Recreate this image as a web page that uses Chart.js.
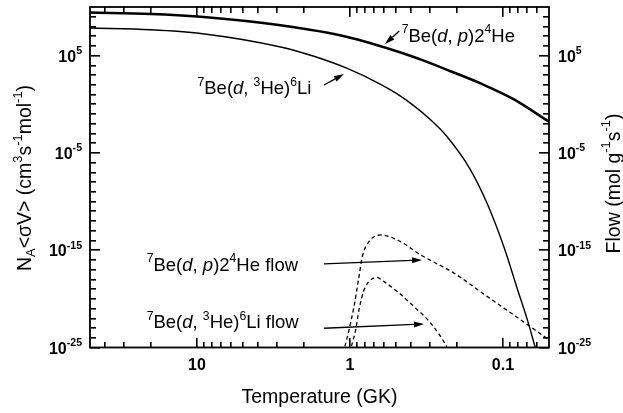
<!DOCTYPE html>
<html><head><meta charset="utf-8">
<script src="https://cdn.jsdelivr.net/npm/chart.js@4.4.1/dist/chart.umd.min.js"></script>
<style>html,body{margin:0;padding:0;background:#fff;}#wrap{width:623px;height:413px;}</style>
</head><body><div id="wrap"><canvas id="c" width="623" height="413"></canvas></div>
<script>
// ---- data (temperature in GK) ----
const dpTemps = [50, 20, 9.45, 2.84, 1.04, 0.466, 0.336, 0.22, 0.14, 0.0847, 0.05];
const dpRate = [2.7e9, 1.95e9, 9.8e8, 1.3e8, 8.3e6, 2.1e5, 3.4e4, 2.5e3, 1.4e2, 3.2, 1.6e-2];

const he3Temps = [50, 20, 9.45, 2.84, 1.7, 1.04, 0.63, 0.5, 0.385, 0.3, 0.233, 0.163, 0.126, 0.098, 0.0805, 0.0686, 0.0615, 0.058];
const he3Rate = [6.9e7, 4.6e7, 1.9e7, 7.8e5, 8.1e4, 4.8e3, 1.14e2, 13.8, 0.77, 2.87e-2, 5.1e-4, 1.85e-7, 5.0e-11, 1.7e-15, 1.05e-19, 4.3e-23, 1e-25, 5e-27];

const dpFlowTemps = [1.148, 1.084, 1.014, 0.941, 0.873, 0.830, 0.751, 0.630, 0.490, 0.345, 0.209, 0.1264, 0.0766, 0.05];
const dpFlow = [5.5e-27, 1e-25, 6.6e-24, 1.6e-21, 1.9e-18, 2.2e-16, 7.6e-15, 3.7e-14, 1.15e-14, 3.3e-16, 4.4e-18, 1.7e-20, 6.9e-23, 6.2e-25];

const he3FlowTemps = [1.01, 0.98, 0.917, 0.873, 0.809, 0.751, 0.668, 0.599, 0.490, 0.3815, 0.2966, 0.2307, 0.2196];
const he3Flow = [5e-27, 1e-25, 6.6e-24, 7.4e-22, 8.3e-20, 5.9e-19, 1.6e-18, 5.9e-19, 5.6e-20, 1.6e-21, 3.2e-23, 8.7e-26, 1.4e-26];

// ---- tick values and labels ----
const xMajorTicks = [10, 1, 0.1];
const xMajorLabels = ['10', '1', '0.1'];
const xMinorTicks = [40, 30, 20, 9, 8, 7, 6, 5, 4, 3, 2, 0.9, 0.8, 0.7, 0.6, 0.5, 0.4, 0.3, 0.2, 0.09, 0.08, 0.07, 0.06];
const yMajorExponents = [-25, -15, -5, 5];
const yMinorExponents = [-24,-23,-22,-21,-20,-19,-18,-17,-16,-14,-13,-12,-11,-10,-9,-8,-7,-6,-4,-3,-2,-1,0,1,2,3,4,6,7,8,9];

// ---- texts ----
const xTitle = [{t:'Temperature (GK)'}];
const yTitle = [{t:'N'},{t:'A',sub:1},{t:'<σV> (cm'},{t:'3',sup:1},{t:'s'},{t:'-1',sup:1},{t:'mol'},{t:'-1',sup:1},{t:')'}];
const y2Title = [{t:'Flow (mol g'},{t:'-1',sup:1},{t:'s'},{t:'-1',sup:1},{t:')'}];
const dpName = [{t:'7',sup:1},{t:'Be('},{t:'d',it:1},{t:', '},{t:'p',it:1},{t:')2'},{t:'4',sup:1},{t:'He'}];
const he3Name = [{t:'7',sup:1},{t:'Be('},{t:'d',it:1},{t:', '},{t:'3',sup:1},{t:'He)'},{t:'6',sup:1},{t:'Li'}];

const notes = [
  {segs: dpName, scale:'y', at:[0.459, 2.72e6], from:[0.476, 3.4e7], to:[0.590, 1.57e6]},
  {segs: he3Name, scale:'y', at:[9.92, 10.2], from:[1.477, 96], to:[1.094, 1300]},
  {segs: dpName.concat([{t:' flow'}]), scale:'y2', at:[21.3, 7.9e-18], from:[1.477, 3.9e-17], to:[0.338, 1e-16]},
  {segs: he3Name.concat([{t:' flow'}]), scale:'y2', at:[21.3, 9.5e-24], from:[1.477, 9.5e-24], to:[0.328, 2.6e-23]}
];

const FF = '"Liberation Sans", Arial, Helvetica, sans-serif';

function segFont(s, size, weight) {
  const sz = (s.sup || s.sub) ? size * 0.66 : size;
  return (s.it ? 'italic ' : '') + weight + ' ' + sz + 'px ' + FF;
}
function richWidth(ctx, segs, size, weight) {
  let w = 0;
  for (const s of segs) { ctx.font = segFont(s, size, weight); w += ctx.measureText(s.t).width; }
  return w;
}
function drawRich(ctx, segs, x, y, size, weight, align) {
  const w = richWidth(ctx, segs, size, weight);
  let cx = align === 'center' ? x - w / 2 : (align === 'right' ? x - w : x);
  ctx.textAlign = 'left'; ctx.textBaseline = 'alphabetic'; ctx.fillStyle = '#000';
  for (const s of segs) {
    ctx.font = segFont(s, size, weight);
    const dy = s.sup ? -size * 0.47 : (s.sub ? size * 0.22 : 0);
    ctx.fillText(s.t, cx, y + dy);
    cx += ctx.measureText(s.t).width;
  }
}
function arrow(ctx, x1, y1, x2, y2, len, half) {
  const a = Math.atan2(y2 - y1, x2 - x1);
  const bx = x2 - len * Math.cos(a), by = y2 - len * Math.sin(a);
  ctx.beginPath(); ctx.moveTo(x1, y1); ctx.lineTo(bx, by); ctx.stroke();
  ctx.beginPath();
  ctx.moveTo(x2, y2);
  ctx.lineTo(bx + half * Math.sin(a), by - half * Math.cos(a));
  ctx.lineTo(bx - half * Math.sin(a), by + half * Math.cos(a));
  ctx.closePath(); ctx.fill();
}

function drawTicks(chart, TW, MJ, MN) {
  const ctx = chart.ctx, a = chart.chartArea;
  const xs = chart.scales.x, ys = chart.scales.y;
  ctx.save();
  ctx.fillStyle = '#000000';
  const L0 = Math.round(a.left), R0 = Math.round(a.right), T0 = Math.round(a.top), B0 = Math.round(a.bottom);
  const xt = (v, L) => { const p = Math.round(xs.getPixelForValue(v) - TW / 2);
    ctx.fillRect(p, B0 - L, TW, L);
    ctx.fillRect(p, T0, TW, L); };
  const yt = (v, L) => { const p = Math.round(ys.getPixelForValue(v) - TW / 2);
    ctx.fillRect(L0, p, L, TW);
    ctx.fillRect(R0 - L, p, L, TW); };
  for (const v of xMajorTicks) xt(v, MJ);
  for (const v of xMinorTicks) xt(v, MN);
  for (const e of yMajorExponents) yt(Math.pow(10, e), MJ);
  for (const e of yMinorExponents) yt(Math.pow(10, e), MN);
  ctx.restore();
}

const decor = {
  id: 'decor',
  beforeDatasetsDraw(chart) {
    // inward ticks on all four sides
    drawTicks(chart, 1.6, 10, 6);
  },
  afterDraw(chart) {
    const ctx = chart.ctx, a = chart.chartArea;
    const xs = chart.scales.x, ys = chart.scales.y;
    ctx.save();
    ctx.setLineDash([]);
    ctx.strokeStyle = '#000000'; ctx.fillStyle = '#000000';
    // frame
    ctx.lineWidth = 1.8;
    ctx.strokeRect(a.left, a.top, a.right - a.left, a.bottom - a.top);
    // tick labels
    ctx.textAlign = 'center'; ctx.textBaseline = 'alphabetic';
    ctx.font = 'bold 16px ' + FF;
    xMajorTicks.forEach((v, i) => ctx.fillText(xMajorLabels[i], xs.getPixelForValue(v), a.bottom + 22.5));
    yMajorExponents.forEach(e => {
      const p = ys.getPixelForValue(Math.pow(10, e));
      const segs = [{t:'10'}, {t:String(e), sup:1}];
      drawRich(ctx, segs, a.left - 8, p + 6, 16, 'bold', 'right');
      drawRich(ctx, segs, a.right + 9, p + 6, 16, 'bold', 'left');
    });
    // axis titles
    drawRich(ctx, xTitle, (a.left + a.right) / 2, 402.5, 19.5, 'normal', 'center');
    ctx.save(); ctx.translate(31, 178); ctx.rotate(-Math.PI / 2);
    drawRich(ctx, yTitle, 0, 0, 19.5, 'normal', 'center'); ctx.restore();
    ctx.save(); ctx.translate(619.5, 183.5); ctx.rotate(-Math.PI / 2);
    drawRich(ctx, y2Title, 0, 0, 19.5, 'normal', 'center'); ctx.restore();
    // annotations
    ctx.lineWidth = 1.3;
    notes.forEach(n => {
      const sc = chart.scales[n.scale];
      drawRich(ctx, n.segs, xs.getPixelForValue(n.at[0]), sc.getPixelForValue(n.at[1]), 18.5, 'normal', 'left');
      arrow(ctx, xs.getPixelForValue(n.from[0]), sc.getPixelForValue(n.from[1]),
                 xs.getPixelForValue(n.to[0]), sc.getPixelForValue(n.to[1]), 10, 3);
    });
    ctx.restore();
  }
};

const pts = (xs, ys) => xs.map((x, i) => ({x: x, y: ys[i]}));

new Chart(document.getElementById('c'), {
  type: 'line',
  data: {
    datasets: [
      {label: '7Be(d,p)2 4He', data: pts(dpTemps, dpRate), yAxisID: 'y', borderColor: '#000', borderWidth: 2.5, pointRadius: 0, fill: false, cubicInterpolationMode: 'monotone'},
      {label: '7Be(d,3He)6Li', data: pts(he3Temps, he3Rate), yAxisID: 'y', borderColor: '#000', borderWidth: 1.4, pointRadius: 0, fill: false, cubicInterpolationMode: 'monotone'},
      {label: '7Be(d,p)2 4He flow', data: pts(dpFlowTemps, dpFlow), yAxisID: 'y2', borderColor: '#000', borderWidth: 1.3, borderDash: [4, 3], pointRadius: 0, fill: false, cubicInterpolationMode: 'monotone'},
      {label: '7Be(d,3He)6Li flow', data: pts(he3FlowTemps, he3Flow), yAxisID: 'y2', borderColor: '#000', borderWidth: 1.3, borderDash: [4, 3], pointRadius: 0, fill: false, cubicInterpolationMode: 'monotone'}
    ]
  },
  options: {
    responsive: false, animation: false, events: [],
    layout: {padding: {left: 90, top: 7, right: 74, bottom: 65.5}},
    plugins: {legend: {display: false}, tooltip: {enabled: false}},
    scales: {
      x: {type: 'logarithmic', reverse: true, min: 0.05, max: 50, display: false},
      y: {type: 'logarithmic', min: 1e-25, max: 1e10, display: false},
      y2: {type: 'logarithmic', position: 'right', min: 1e-25, max: 1e10, display: false}
    }
  },
  plugins: [decor]
});
</script></body></html>
